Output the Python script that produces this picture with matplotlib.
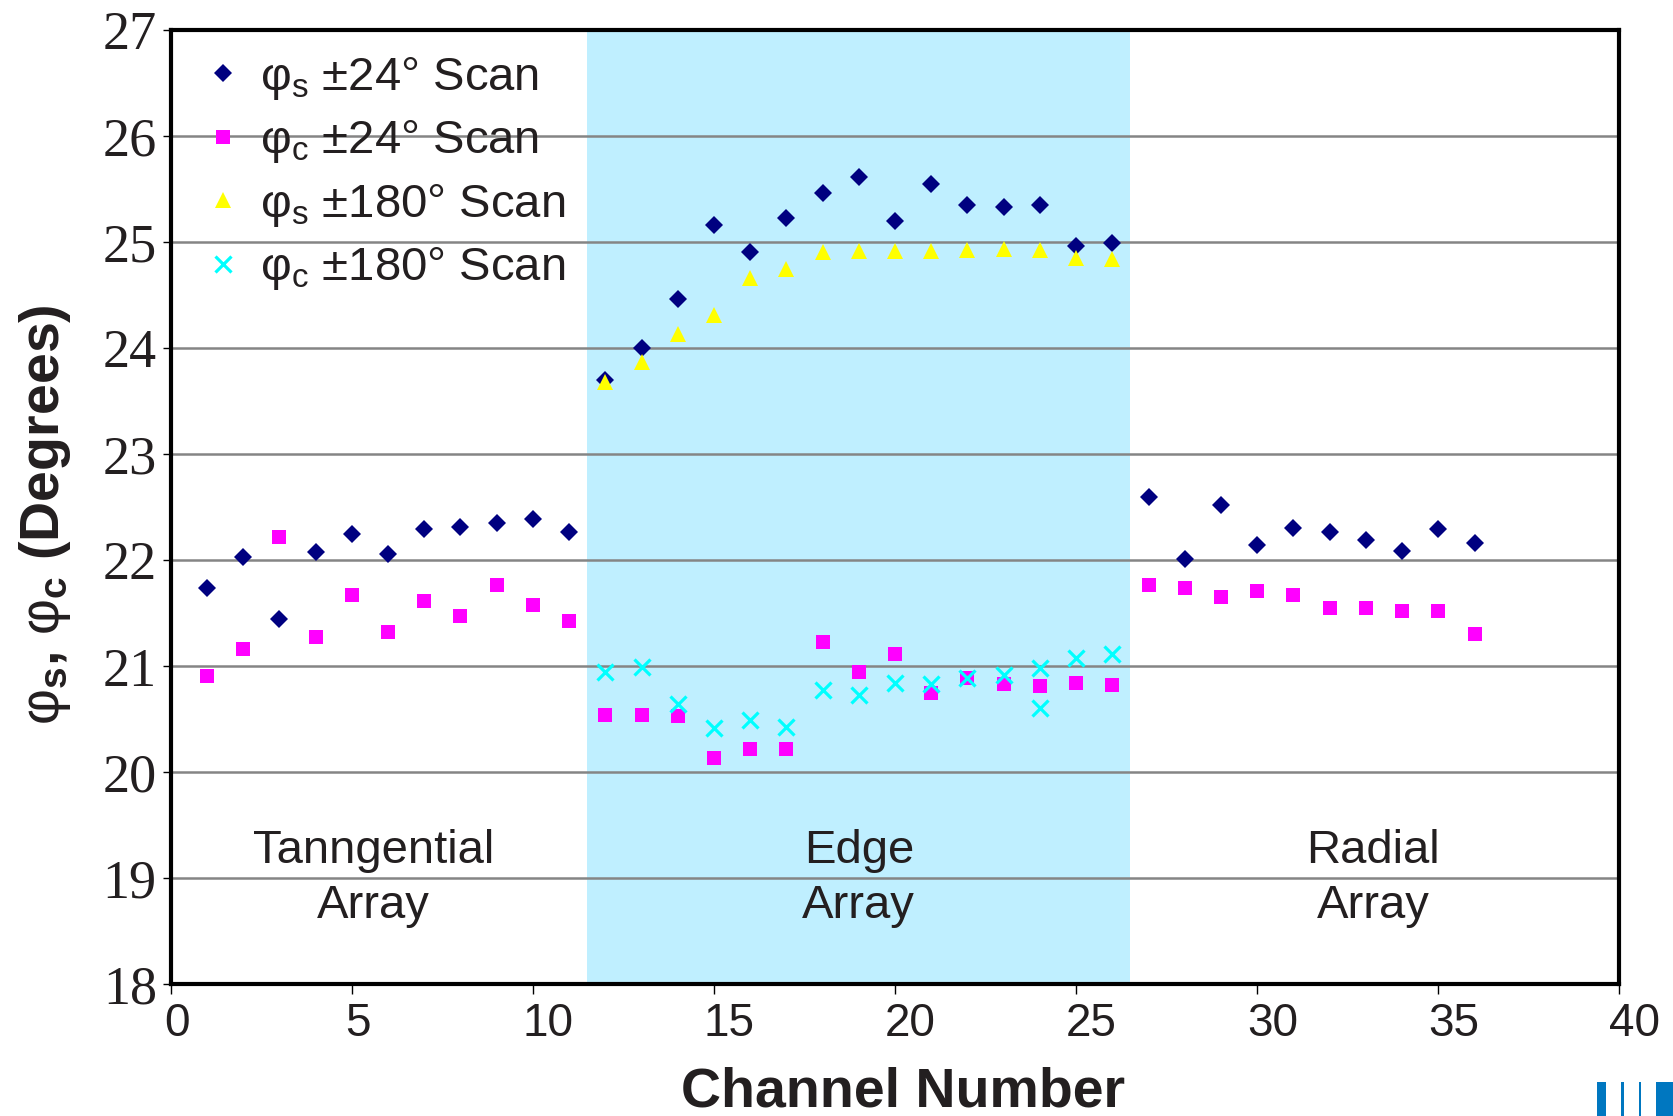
import matplotlib.pyplot as plt
from matplotlib.ticker import MultipleLocator
from matplotlib.patches import Rectangle
from matplotlib.transforms import ScaledTranslation

plt.rcParams['font.family'] = ['Liberation Sans', 'DejaVu Sans']
plt.rcParams['mathtext.fontset'] = 'custom'
plt.rcParams['mathtext.rm'] = 'Liberation Sans'
plt.rcParams['mathtext.it'] = 'Liberation Sans:italic'
plt.rcParams['mathtext.bf'] = 'Liberation Sans:bold'

# tangential array, channels 1-11
tan_ch = [1, 2, 3, 4, 5, 6, 7, 8, 9, 10, 11]
tan_phis_24 = [21.74, 22.03, 21.45, 22.08, 22.25, 22.06, 22.29, 22.31, 22.35, 22.39, 22.27]
tan_phic_24 = [20.91, 21.16, 22.22, 21.28, 21.67, 21.32, 21.62, 21.47, 21.77, 21.58, 21.43]

# edge array, channels 12-26 (both scans)
edge_ch = [12, 13, 14, 15, 16, 17, 18, 19, 20, 21, 22, 23, 24, 25, 26]
edge_phis_24 = [23.70, 24.00, 24.46, 25.16, 24.91, 25.23, 25.46, 25.61, 25.20, 25.55,
                25.35, 25.33, 25.35, 24.96, 24.99]
edge_phic_24 = [20.54, 20.54, 20.53, 20.13, 20.22, 20.22, 21.23, 20.95, 21.12, 20.75,
                20.89, 20.83, 20.81, 20.84, 20.82]
edge_phis_180 = [23.68, 23.87, 24.13, 24.31, 24.66, 24.75, 24.91, 24.92, 24.92, 24.92,
                 24.93, 24.94, 24.93, 24.85, 24.84]
edge_ch_180c = [12, 13, 14, 15, 16, 17, 18, 19, 20, 21, 22, 23, 24, 24, 25, 26]
edge_phic_180 = [20.95, 20.99, 20.64, 20.42, 20.49, 20.43, 20.78, 20.73, 20.84, 20.83,
                 20.89, 20.92, 20.98, 20.61, 21.08, 21.12]

# radial array, channels 27-36
rad_ch = [27, 28, 29, 30, 31, 32, 33, 34, 35, 36]
rad_phis_24 = [22.60, 22.01, 22.52, 22.14, 22.30, 22.27, 22.19, 22.09, 22.29, 22.16]
rad_phic_24 = [21.77, 21.74, 21.65, 21.71, 21.67, 21.55, 21.55, 21.52, 21.52, 21.30]

regions = [('Tanngential\nArray', 5.6), ('Edge\nArray', 19.0), ('Radial\nArray', 33.2)]
edge_span = (11.5, 26.5)
x_ticks = [0, 5, 10, 15, 20, 25, 30, 35, 40]

fig = plt.figure(figsize=(16.73, 11.16), dpi=100)
ax = fig.add_axes([0.102, 0.118, 0.866, 0.855])

ax.axvspan(*edge_span, color='#bfefff', zorder=0, lw=0)
for y in range(19, 27):
    ax.axhline(y, color='#858585', lw=1.8, zorder=1)

phis_ch = tan_ch + edge_ch + rad_ch
phis_24 = tan_phis_24 + edge_phis_24 + rad_phis_24
phic_24 = tan_phic_24 + edge_phic_24 + rad_phic_24

ax.plot(phis_ch, phis_24, ls='none', marker='D', ms=9.5, color='#000080', mew=0,
        label=r'$\mathrm{\varphi_s}$ ±24° Scan', zorder=3)
ax.plot(phis_ch, phic_24, ls='none', marker='s', ms=10.5, color='#ff00ff', mew=0,
        label=r'$\mathrm{\varphi_c}$ ±24° Scan', zorder=3)
ax.plot(edge_ch, edge_phis_180, ls='none', marker='^', ms=12, color='#ffff00', mew=0,
        label=r'$\mathrm{\varphi_s}$ ±180° Scan', zorder=4)
ax.plot(edge_ch_180c, edge_phic_180, ls='none', marker='x', ms=11, color='#00ffff', mew=2.3,
        label=r'$\mathrm{\varphi_c}$ ±180° Scan', zorder=4)

for txt, xc in regions:
    ax.text(xc, 19.0, txt, ha='center', va='center', fontsize=34, linespacing=1.32,
            color='#231f20', zorder=5)

ax.set_xlim(0, 40)
ax.set_ylim(18, 27)
ax.set_xticks(x_ticks)
ax.yaxis.set_major_locator(MultipleLocator(1))

for s in ax.spines.values():
    s.set_linewidth(3)
    s.set_zorder(6)

ax.tick_params(axis='y', direction='out', length=6, width=1, pad=4, labelsize=39,
               labelcolor='#231f20')
ax.tick_params(axis='x', direction='out', length=7, width=1, pad=6, labelsize=33,
               labelcolor='#231f20')
for lab in ax.get_yticklabels():
    lab.set_family('Liberation Serif')
# the x labels sit a little right of their ticks
for v, lab in zip(x_ticks, ax.get_xticklabels()):
    dx = 15 if v >= 10 else 6
    lab.set_transform(lab.get_transform() + ScaledTranslation(dx / 100, 0, fig.dpi_scale_trans))

leg = ax.legend(loc='upper left', bbox_to_anchor=(0.013, 0.989), frameon=False, fontsize=34,
                handlelength=0.8, handletextpad=0.4, labelspacing=0.35, borderaxespad=0.0,
                borderpad=0.3)
for t in leg.get_texts():
    t.set_color('#231f20')

fig.text(0.027, 0.539, r'$\mathrm{\varphi}_\mathbf{s}$, $\mathrm{\varphi}_\mathbf{c}$ (Degrees)',
         rotation=90, ha='center', va='center', fontsize=40, fontweight='bold',
         color='#231f20')
fig.text(0.540, 0.021, 'Channel Number', ha='center', va='center', fontsize=40,
         fontweight='bold', color='#231f20')

# corner logo bars
for x0, w in [(1597, 9), (1621, 3), (1639, 2), (1656, 17)]:
    fig.patches.append(Rectangle((x0 / 1673, 0), w / 1673, 34 / 1116,
                                 transform=fig.transFigure, color='#0077c0', lw=0))

fig.savefig('out.png', dpi=100)
